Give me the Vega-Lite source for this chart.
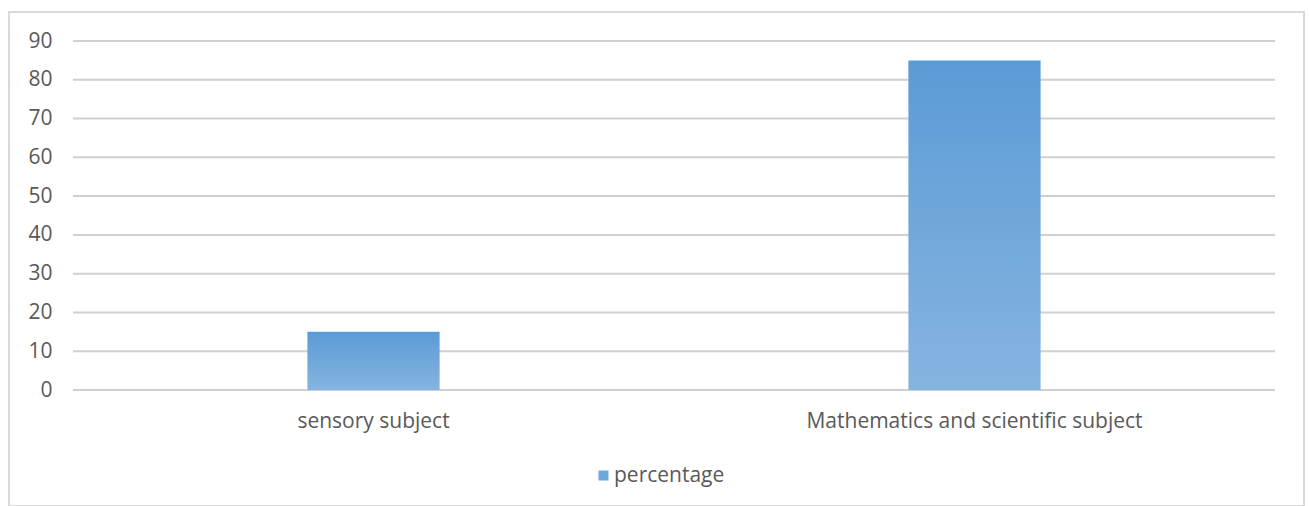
{
  "$schema": "https://vega.github.io/schema/vega-lite/v6.json",
  "width": 1295,
  "height": 494,
  "autosize": {"type": "none"},
  "padding": {"left": 9, "top": 12, "right": 5, "bottom": 0},
  "background": "white",
  "config": {
    "view": {"stroke": "#d9d9d9", "strokeWidth": 2},
    "font": "Open Sans"
  },
  "datasets": {
    "bars": [
      {"subject": "sensory subject", "percentage": 15},
      {"subject": "Mathematics and scientific subject", "percentage": 85}
    ],
    "grid": [
      {"v": 0}, {"v": 10}, {"v": 20}, {"v": 30}, {"v": 40},
      {"v": 50}, {"v": 60}, {"v": 70}, {"v": 80}, {"v": 90}
    ]
  },
  "layer": [
    {
      "data": {"name": "grid"},
      "mark": {"type": "rule", "color": "#d0d0d0", "strokeWidth": 2},
      "encoding": {
        "y": {
          "field": "v",
          "type": "quantitative",
          "scale": {"domain": [0, 90], "range": [378, 29], "nice": false},
          "axis": {
            "offset": -64,
            "domain": false,
            "ticks": false,
            "grid": false,
            "labelPadding": 21,
            "labelFontSize": 21,
            "labelColor": "#595959",
            "title": null,
            "values": [0, 10, 20, 30, 40, 50, 60, 70, 80, 90]
          }
        },
        "x": {"datum": 0, "type": "quantitative", "scale": {"domain": [0, 1], "range": [64, 1266]}, "axis": null},
        "x2": {"datum": 1}
      }
    },
    {
      "data": {"name": "bars"},
      "mark": {"type": "bar", "width": {"band": 0.22}, "opacity": 0},
      "encoding": {
        "x": {
          "field": "subject",
          "type": "nominal",
          "sort": null,
          "scale": {"range": [64, 1266], "paddingInner": 0, "paddingOuter": 0},
          "axis": null
        },
        "y": {"field": "percentage", "type": "quantitative"},
        "color": {
          "datum": "percentage",
          "scale": {"range": ["#6ea7dc"]},
          "legend": {
            "title": null,
            "orient": "none",
            "legendX": 584,
            "legendY": 453,
            "padding": 0,
            "symbolType": "square",
            "symbolSize": 100,
            "symbolStrokeWidth": 0,
            "symbolOpacity": 1,
            "labelFontSize": 21,
            "labelColor": "#595959",
            "labelOffset": 0,
            "labelLimit": 0
          }
        }
      }
    },
    {
      "data": {"name": "bars"},
      "mark": {
        "type": "bar",
        "width": {"band": 0.22},
        "color": {"gradient": "linear", "x1": 0, "y1": 0, "x2": 0, "y2": 1,
                  "stops": [{"offset": 0, "color": "#5b9bd5"}, {"offset": 1, "color": "#86b4e1"}]}
      },
      "encoding": {
        "x": {
          "field": "subject",
          "type": "nominal",
          "sort": null,
          "scale": {"range": [64, 1266], "paddingInner": 0, "paddingOuter": 0},
          "axis": {
            "offset": -116,
            "domain": false,
            "ticks": false,
            "grid": false,
            "labelPadding": 20,
            "labelFontSize": 21,
            "labelColor": "#595959",
            "labelAngle": 0,
            "labelLimit": 0,
            "title": null
          }
        },
        "y": {"field": "percentage", "type": "quantitative"}
      }
    }
  ],
  "resolve": {"scale": {"x": "independent"}}
}
